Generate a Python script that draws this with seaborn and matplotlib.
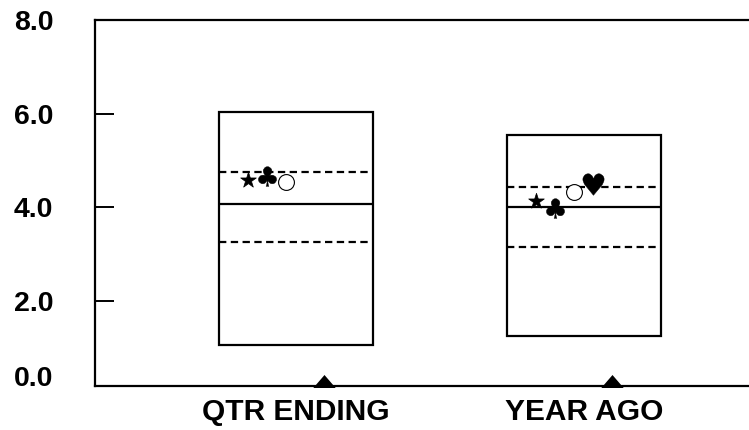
import numpy as np
import pandas as pd
import matplotlib
matplotlib.use("Agg")
import matplotlib.pyplot as plt
import seaborn as sns

# values
categories = ["QTR ENDING", "YEAR AGO"]
box_low = [1.05, 1.25]
box_high = [6.04, 5.54]
lower_q = [3.26, 3.15]
median = [4.07, 4.00]
upper_q = [4.76, 4.44]
star = [4.59, 4.13]
club = [4.67, 3.98]
circle = [4.55, 4.33]
heart = [np.nan, 4.50]
triangle = [0.30, 0.30]

sns.set_theme(style="white")
plt.rcParams["font.family"] = ["Liberation Sans", "DejaVu Sans"]
plt.rcParams["font.weight"] = "bold"
plt.rcParams["text.color"] = "black"
plt.rcParams["xtick.color"] = "black"
plt.rcParams["ytick.color"] = "black"

fig = plt.figure(figsize=(7.49, 4.30), dpi=100)
ax = fig.add_axes([95 / 749, (430 - 385.7) / 430, 1 - 95 / 749, (385.7 - 20) / 430])

x = np.arange(len(categories))
box_w = 0.535

# min/max rectangles
ax.bar(x, np.array(box_high) - np.array(box_low), bottom=box_low, width=box_w,
       fill=False, edgecolor="black", linewidth=1.6, zorder=2)
ax.hlines(median, x - box_w / 2, x + box_w / 2, colors="black", linewidth=1.6, zorder=2)
ax.hlines(upper_q, x - box_w / 2, x + box_w / 2, colors="black", linewidth=1.6,
          linestyles=(0, (3.3, 2.0)), zorder=2)
ax.hlines(lower_q, x - box_w / 2, x + box_w / 2, colors="black", linewidth=1.6,
          linestyles=(0, (3.3, 2.0)), zorder=2)

# symbol markers, each series nudged sideways inside the box
series = [
    (star, -0.167, "*", 140, "black", "black", 0.5),
    (club, -0.102, "$\u2663$", 200, "black", "black", 0.3),
    (circle, -0.035, "o", 130, "white", "black", 0.8),
    (heart, 0.030, "$\u2665$", 240, "black", "black", 0.3),
]
for vals, off, mk, size, fc, ec, lw in series:
    df = pd.DataFrame({"x": x + off, "y": vals}).dropna()
    sns.scatterplot(data=df, x="x", y="y", marker=mk, s=size, color=fc,
                    edgecolor=ec, linewidth=lw, ax=ax, zorder=3, legend=False)

tri = [(-1, -0.58), (1, -0.58), (0, 0.58)]
sns.scatterplot(x=x + 0.097, y=triangle, marker=tri, s=260, color="black",
                edgecolor="black", linewidth=0, ax=ax, zorder=5, legend=False,
                clip_on=False)

ax.set_xlim(-0.698, 1.573)
ax.set_ylim(0.19, 8.0)
ax.set_xticks(x)
ax.set_xticklabels(categories, fontsize=21.5, fontweight="bold")
ax.set_yticks([0.19, 2, 4, 6, 8])
ax.set_yticklabels(["0.0", "2.0", "4.0", "6.0", "8.0"], fontsize=20.5, fontweight="bold")
ax.get_yticklabels()[0].set_va("baseline")
ax.tick_params(axis="y", direction="in", length=13.5, width=1.4, color="black",
               pad=30, left=True, labelcolor="black")
ax.tick_params(axis="x", length=0, pad=9, labelcolor="black")
ax.set_xlabel("")
ax.set_ylabel("")

for side in ["left", "bottom", "top"]:
    ax.spines[side].set_visible(True)
    ax.spines[side].set_color("black")
    ax.spines[side].set_linewidth(1.6)
    ax.spines[side].set_zorder(4)
ax.spines["right"].set_visible(False)

fig.savefig("out.png", dpi=100)
